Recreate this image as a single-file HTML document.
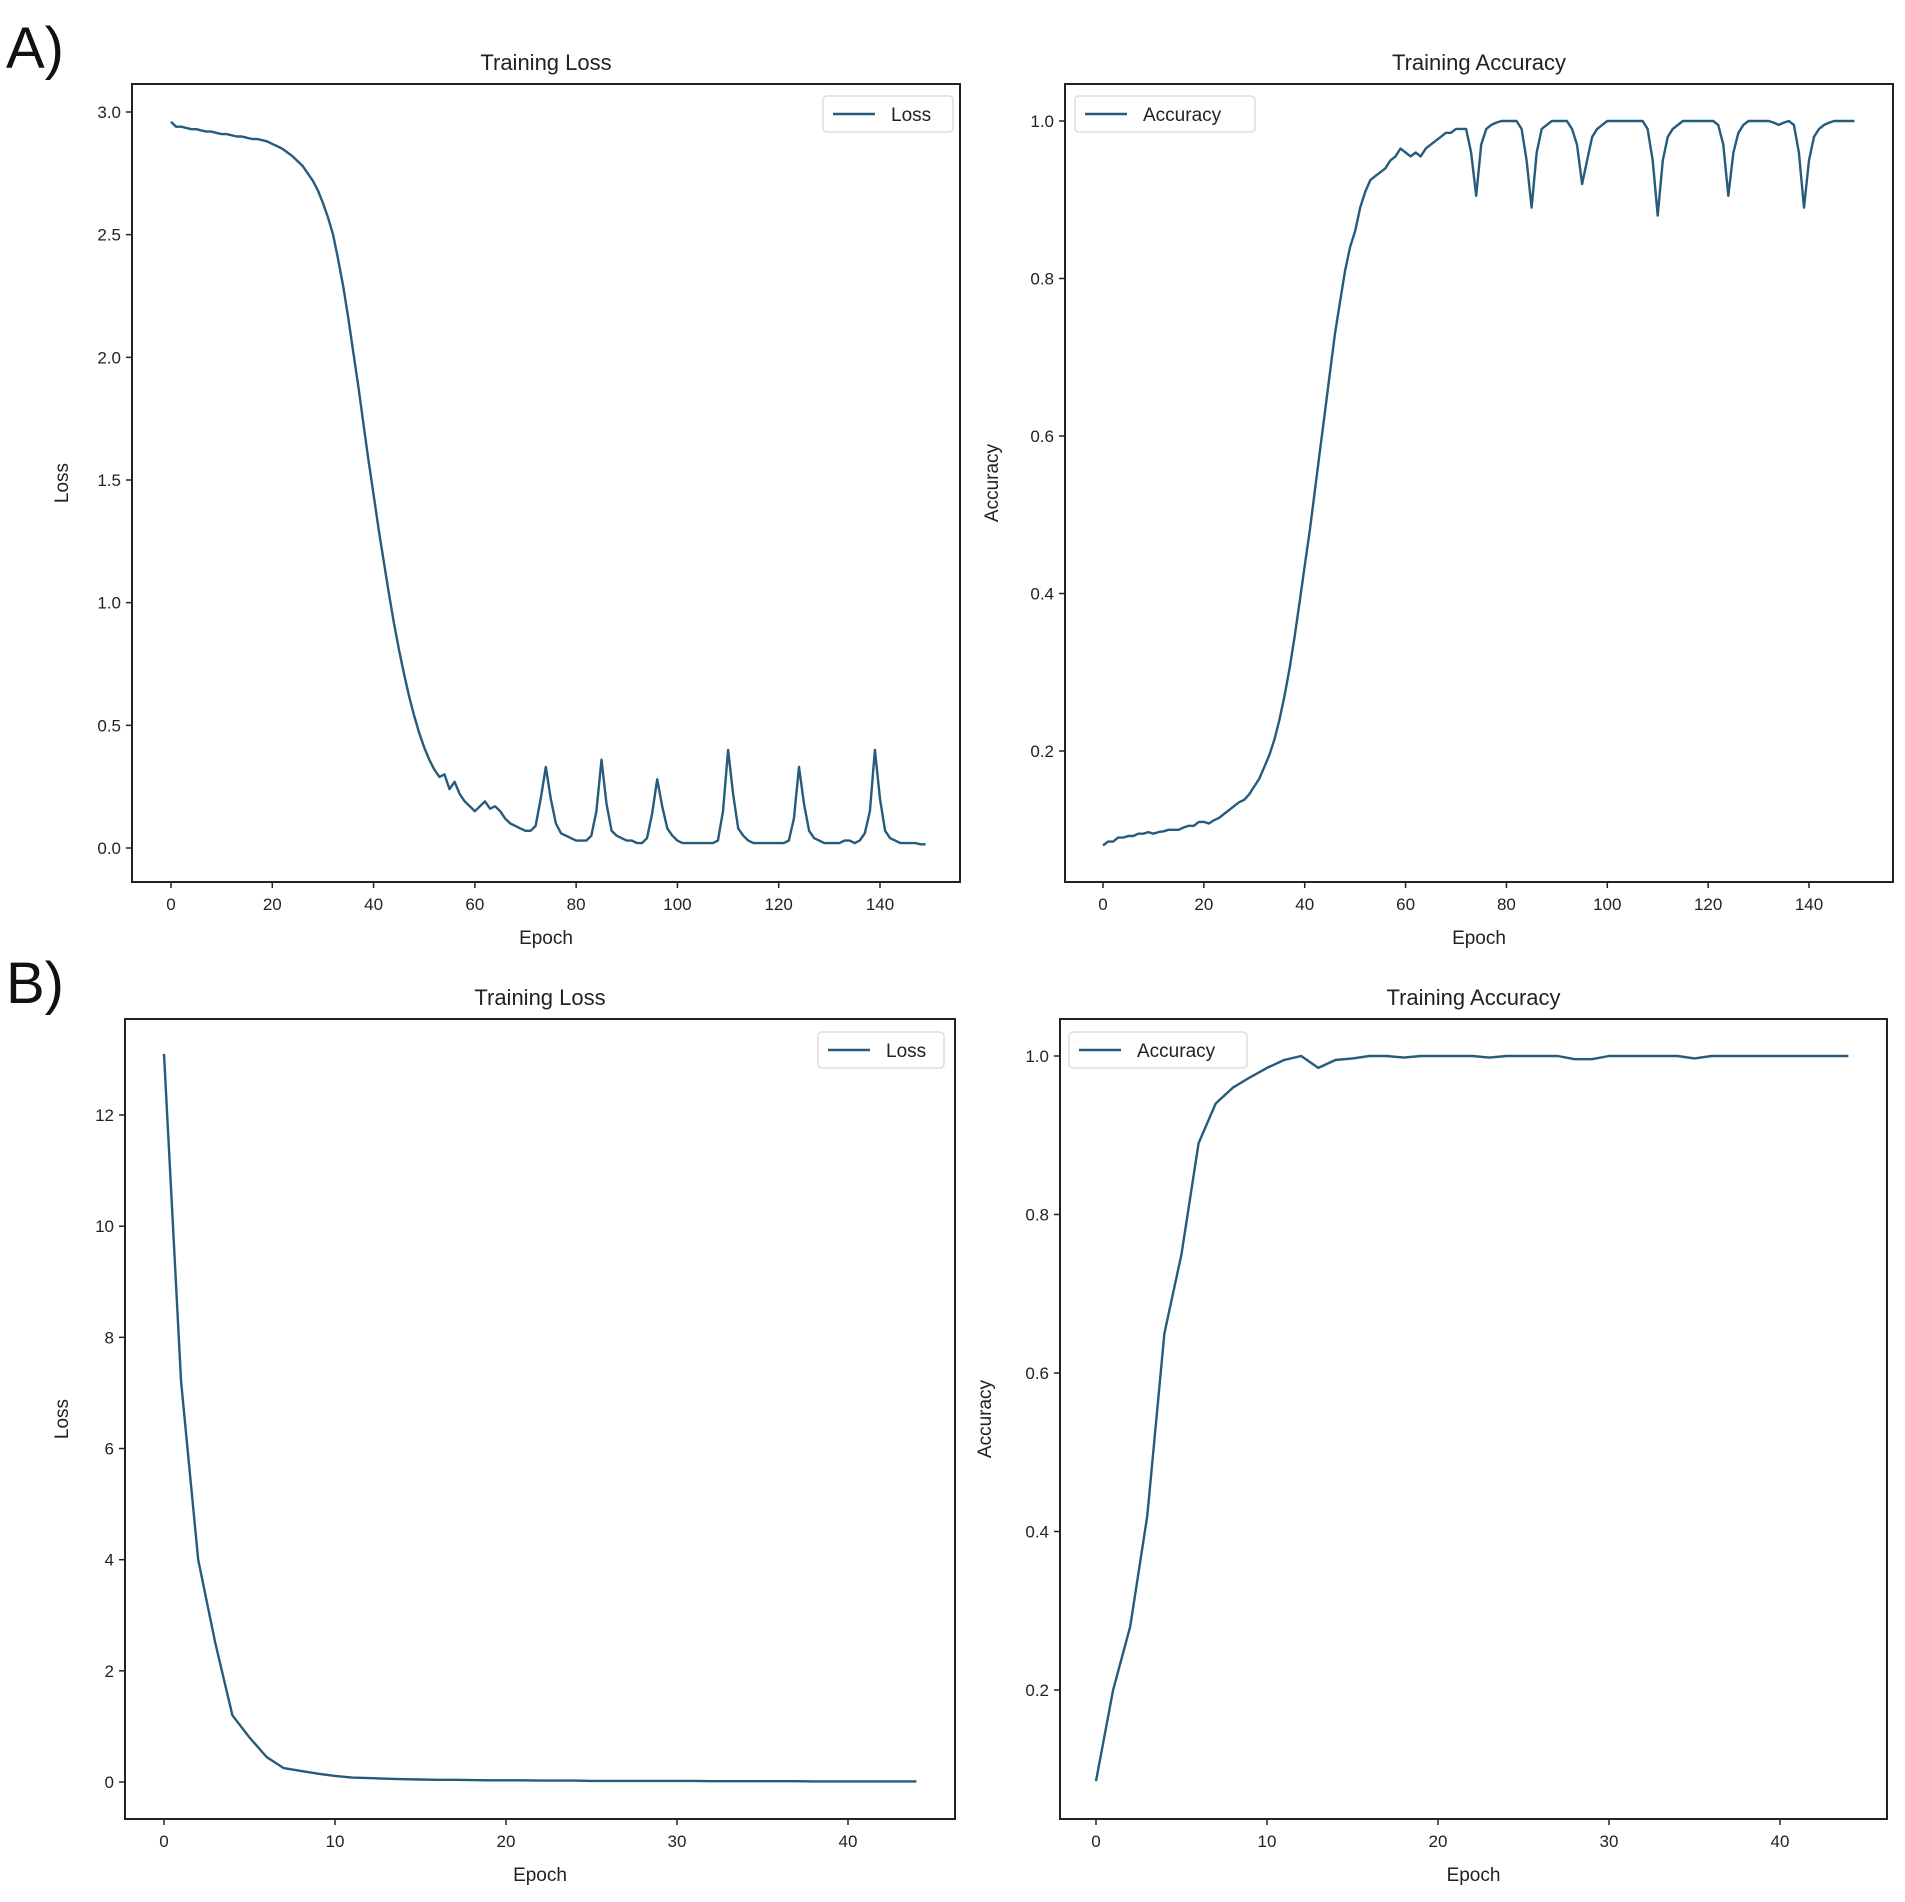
<!DOCTYPE html>
<html><head><meta charset="utf-8">
<style>
body{margin:0;background:#fff;}
svg{display:block;font-family:"Liberation Sans","DejaVu Sans",sans-serif;}
</style></head>
<body>
<svg id="fig" width="1905" height="1902" viewBox="0 0 1905 1902" xmlns="http://www.w3.org/2000/svg">
<text x="6" y="68" font-size="58" fill="#111">A)</text>
<text x="6" y="1003" font-size="58" fill="#111">B)</text>
</svg>
<script>
const lossA = [2.96,2.94,2.94,2.935,2.93,2.93,2.925,2.92,2.92,2.915,2.91,2.91,2.905,2.90,2.90,2.895,2.89,2.89,2.885,2.88,2.87,2.86,2.85,2.835,2.82,2.80,2.78,2.75,2.72,2.68,2.63,2.57,2.50,2.40,2.29,2.16,2.02,1.88,1.73,1.58,1.44,1.30,1.17,1.04,0.92,0.81,0.71,0.62,0.54,0.47,0.41,0.36,0.32,0.29,0.30,0.24,0.27,0.22,0.19,0.17,0.15,0.17,0.19,0.16,0.17,0.15,0.12,0.10,0.09,0.08,0.07,0.07,0.09,0.20,0.33,0.20,0.10,0.06,0.05,0.04,0.03,0.03,0.03,0.05,0.15,0.36,0.18,0.07,0.05,0.04,0.03,0.03,0.02,0.02,0.04,0.14,0.28,0.17,0.08,0.05,0.03,0.02,0.02,0.02,0.02,0.02,0.02,0.02,0.03,0.15,0.40,0.22,0.08,0.05,0.03,0.02,0.02,0.02,0.02,0.02,0.02,0.02,0.03,0.12,0.33,0.18,0.07,0.04,0.03,0.02,0.02,0.02,0.02,0.03,0.03,0.02,0.03,0.06,0.15,0.40,0.20,0.07,0.04,0.03,0.02,0.02,0.02,0.02,0.015,0.015];
const accA = [0.08,0.085,0.085,0.09,0.09,0.092,0.092,0.095,0.095,0.097,0.095,0.097,0.098,0.10,0.10,0.10,0.103,0.105,0.105,0.11,0.11,0.108,0.112,0.115,0.12,0.125,0.13,0.135,0.138,0.145,0.155,0.165,0.18,0.195,0.215,0.24,0.27,0.305,0.345,0.39,0.435,0.48,0.53,0.58,0.63,0.68,0.73,0.77,0.81,0.84,0.86,0.89,0.91,0.925,0.93,0.935,0.94,0.95,0.955,0.965,0.96,0.955,0.96,0.955,0.965,0.97,0.975,0.98,0.985,0.985,0.99,0.99,0.99,0.96,0.905,0.97,0.99,0.995,0.998,1.0,1.0,1.0,1.0,0.99,0.95,0.89,0.96,0.99,0.995,1.0,1.0,1.0,1.0,0.99,0.97,0.92,0.95,0.98,0.99,0.995,1.0,1.0,1.0,1.0,1.0,1.0,1.0,1.0,0.99,0.95,0.88,0.95,0.98,0.99,0.995,1.0,1.0,1.0,1.0,1.0,1.0,1.0,0.995,0.97,0.905,0.96,0.985,0.995,1.0,1.0,1.0,1.0,1.0,0.998,0.995,0.998,1.0,0.995,0.96,0.89,0.95,0.98,0.99,0.995,0.998,1.0,1.0,1.0,1.0,1.0];
const lossB = [13.1,7.2,4.0,2.5,1.2,0.8,0.45,0.25,0.2,0.15,0.11,0.08,0.07,0.06,0.05,0.045,0.04,0.04,0.035,0.03,0.03,0.03,0.025,0.025,0.025,0.02,0.02,0.02,0.02,0.02,0.02,0.02,0.015,0.015,0.015,0.015,0.015,0.015,0.01,0.01,0.01,0.01,0.01,0.01,0.01];
const accB = [0.085,0.2,0.28,0.42,0.65,0.75,0.89,0.94,0.96,0.973,0.985,0.995,1.0,0.985,0.995,0.997,1.0,1.0,0.998,1.0,1.0,1.0,1.0,0.998,1.0,1.0,1.0,1.0,0.996,0.996,1.0,1.0,1.0,1.0,1.0,0.997,1.0,1.0,1.0,1.0,1.0,1.0,1.0,1.0,1.0];
const xTicksA = [0,20,40,60,80,100,120,140];
const xTicksB = [0,10,20,30,40];
const yTicksLossA = [0.0,0.5,1.0,1.5,2.0,2.5,3.0];
const yTicksAcc = [0.2,0.4,0.6,0.8,1.0];
const yTicksLossB = [0,2,4,6,8,10,12];

const NS="http://www.w3.org/2000/svg";
const svg=document.getElementById('fig');
const COLOR="#265b7c";
function mk(tag,attrs,parent){const e=document.createElementNS(NS,tag);for(const k in attrs)e.setAttribute(k,attrs[k]);(parent||svg).appendChild(e);return e;}

function panel(p){
  const g=mk('g',{});
  
  
  const sx=v=>p.x0px+(v-p.x0v)*(p.x1px-p.x0px)/(p.x1v-p.x0v);
  const sy=v=>p.y0px+(v-p.y0v)*(p.y1px-p.y0px)/(p.y1v-p.y0v);
  const frame=mk('rect',{x:p.L,y:p.T,width:p.R-p.L,height:p.B-p.T,fill:'none',stroke:'#222','stroke-width':2},g);
  
  
  p.xt.forEach(v=>{
    const x=sx(v);
    mk('line',{x1:x,x2:x,y1:p.B,y2:p.B+6,stroke:'#222','stroke-width':1.5},g);
    const t=mk('text',{x:x,y:p.B+28,'font-size':17,'text-anchor':'middle',fill:'#222'},g);
    t.textContent=p.xfmt?p.xfmt(v):v;
    
    
  });
  p.yt.forEach(v=>{
    const y=sy(v);
    mk('line',{x1:p.L-6,x2:p.L,y1:y,y2:y,stroke:'#222','stroke-width':1.5},g);
    const t=mk('text',{x:p.L-11,y:y+6,'font-size':17,'text-anchor':'end',fill:'#222'},g);
    t.textContent=p.yfmt(v);
    
    
  });
  const title=mk('text',{x:(p.L+p.R)/2,y:p.T-14,'font-size':22,'text-anchor':'middle',fill:'#222'},g);
  title.textContent=p.title;
  
  
  const xl=mk('text',{x:(p.L+p.R)/2,y:p.B+62,'font-size':19,'text-anchor':'middle',fill:'#222'},g);
  xl.textContent='Epoch';
  
  
  const yx=p.ylx, yy=(p.T+p.B)/2;
  const yl=mk('text',{x:yx,y:yy,'font-size':19,'text-anchor':'middle',fill:'#222',transform:`rotate(-90 ${yx} ${yy})`},g);
  yl.textContent=p.ylabel;
  
  
  const pts=p.data.map((v,i)=>sx(i).toFixed(1)+','+sy(v).toFixed(1)).join(' ');
  const line=mk('polyline',{points:pts,fill:'none',stroke:COLOR,'stroke-width':2.4,'stroke-linejoin':'round'},g);
  
  
  const lg=mk('g',{},g);
  
  
  mk('rect',{x:p.lgx,y:p.lgy,width:p.lgw,height:36,rx:4,fill:'#fff',stroke:'#ddd','stroke-width':1.5},lg);
  mk('line',{x1:p.lgx+10,x2:p.lgx+52,y1:p.lgy+18,y2:p.lgy+18,stroke:COLOR,'stroke-width':2.4},lg);
  const lt=mk('text',{x:p.lgx+68,y:p.lgy+25,'font-size':19,fill:'#222'},lg);
  lt.textContent=p.legend;
  
  
}
const f1=v=>v.toFixed(1);
panel({name:'panel-a-loss',L:132,R:960,T:84,B:882,x0v:0,x1v:140,x0px:171,x1px:880,y0v:0,y1v:3,y0px:848,y1px:112,
  xt:xTicksA,yt:yTicksLossA,yfmt:f1,title:'Training Loss',ylabel:'Loss',ylx:68,data:lossA,legend:'Loss',lgx:823,lgy:96,lgw:130});
panel({name:'panel-a-accuracy',L:1065,R:1893,T:84,B:882,x0v:0,x1v:140,x0px:1103,x1px:1809,y0v:1,y1v:0.2,y0px:121,y1px:751,
  xt:xTicksA,yt:yTicksAcc,yfmt:f1,title:'Training Accuracy',ylabel:'Accuracy',ylx:998,data:accA,legend:'Accuracy',lgx:1075,lgy:96,lgw:180});
panel({name:'panel-b-loss',L:125,R:955,T:1019,B:1819,x0v:0,x1v:40,x0px:164,x1px:848,y0v:0,y1v:12,y0px:1782,y1px:1115,
  xt:xTicksB,yt:yTicksLossB,yfmt:v=>String(v),title:'Training Loss',ylabel:'Loss',ylx:68,data:lossB,legend:'Loss',lgx:818,lgy:1032,lgw:126});
panel({name:'panel-b-accuracy',L:1060,R:1887,T:1019,B:1819,x0v:0,x1v:40,x0px:1096,x1px:1780,y0v:1,y1v:0.2,y0px:1056,y1px:1690,
  xt:xTicksB,yt:yTicksAcc,yfmt:f1,title:'Training Accuracy',ylabel:'Accuracy',ylx:991,data:accB,legend:'Accuracy',lgx:1069,lgy:1032,lgw:178});
</script>
</body></html>
